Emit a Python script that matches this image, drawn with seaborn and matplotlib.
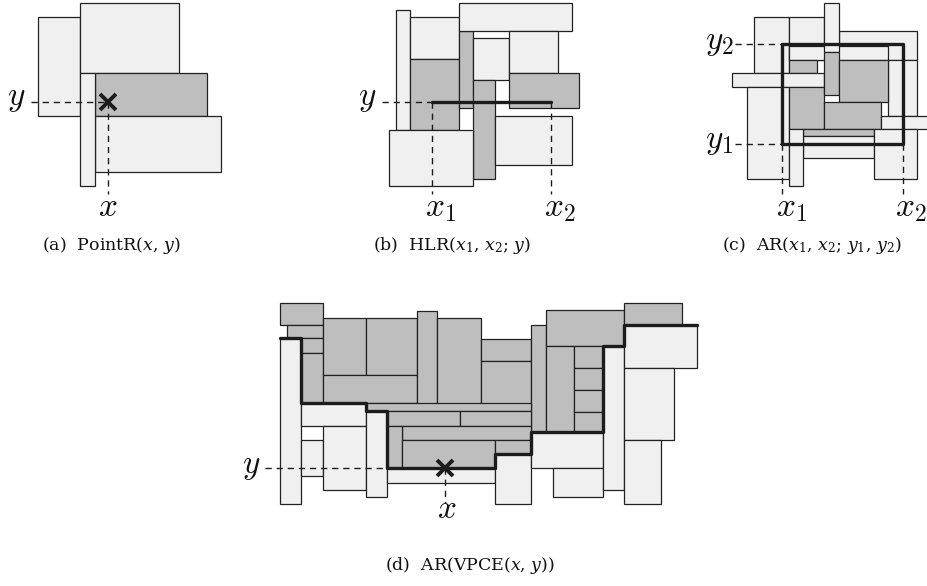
import matplotlib
matplotlib.use("Agg")
import matplotlib.pyplot as plt
import seaborn as sns

sns.set_theme(style="white")

LIGHT = "#f0f0f0"
DARK = "#bebebe"
EDGE = "#222222"
INK = "#1c1c1c"
FILL = {"L": LIGHT, "D": DARK}

# Rectangles of each panel as (left, right, top, bottom, shade), listed back to front
rects_a = [
    (38, 80, 17, 116, "L"),
    (80, 179, 3, 73, "L"),
    (94.7, 207.3, 73, 115.7, "D"),
    (94.7, 221.3, 115.7, 172, "L"),
    (80, 94.7, 73, 186, "L"),
]

rects_b = [
    (396, 410, 10, 130, "L"),
    (410, 459.3, 16.7, 59.3, "L"),
    (410, 459.3, 59.3, 130, "D"),
    (459.3, 473.3, 31, 108.3, "D"),
    (459.3, 572.3, 2.7, 31, "L"),
    (473.3, 509, 38.3, 80, "L"),
    (509, 558.3, 31, 73.3, "L"),
    (509, 579.3, 73.3, 108.3, "D"),
    (473.3, 494.7, 80, 179, "D"),
    (494.7, 572.3, 115.7, 165, "L"),
    (389, 473.3, 130, 186, "L"),
]

rects_c = [
    (754.3, 789.3, 16.7, 73.3, "L"),
    (789.3, 824.3, 16.7, 60, "L"),
    (838.7, 917.3, 31.3, 60, "L"),
    (888.3, 917.3, 60, 115.7, "L"),
    (789.3, 888.3, 45.7, 60, "L"),
    (789.3, 817.3, 60, 73.3, "D"),
    (732.3, 824.3, 73.3, 87.3, "L"),
    (747.3, 789.3, 87.3, 179, "L"),
    (789.3, 824.3, 87.3, 129.3, "D"),
    (824.3, 838.7, 2.7, 52.3, "L"),
    (824.3, 838.7, 52.3, 94.7, "D"),
    (838.7, 888.3, 60, 101.7, "D"),
    (824.3, 881.3, 101.7, 129.3, "D"),
    (881.3, 929, 115.7, 129.3, "L"),
    (803.3, 874, 129.3, 136.3, "D"),
    (803.3, 874, 136.3, 158, "L"),
    (789.3, 803.3, 129.3, 186, "L"),
    (874, 917.3, 129.3, 179, "L"),
]

rects_d = [
    (280, 323, 303.3, 325, "D"),
    (287.3, 323, 325, 338.3, "D"),
    (301.3, 323, 338.3, 353.3, "D"),
    (301.3, 323, 353.3, 403.3, "D"),
    (323, 366.5, 317.7, 375, "D"),
    (366.5, 416.7, 317.7, 375, "D"),
    (323, 416.7, 375, 403.3, "D"),
    (416.7, 437.5, 310.7, 404, "D"),
    (437.5, 481, 317.7, 404, "D"),
    (481, 531, 339.3, 360.7, "D"),
    (481, 531, 360.7, 404, "D"),
    (531, 545.7, 325, 431.7, "D"),
    (545.7, 624.3, 310, 346, "D"),
    (624.3, 682.3, 303.3, 325, "D"),
    (545.7, 574, 346, 431.7, "D"),
    (574, 602.7, 346, 368.3, "D"),
    (574, 602.7, 368.3, 390, "D"),
    (574, 602.7, 390, 411.7, "D"),
    (574, 602.7, 411.7, 431.7, "D"),
    (366, 531, 403.3, 411, "D"),
    (387.3, 460, 411, 425.5, "D"),
    (460, 531, 411, 425.5, "D"),
    (401.7, 531, 425.5, 440, "D"),
    (387.3, 401.7, 425.5, 468.3, "D"),
    (401.7, 495, 440, 468.3, "D"),
    (495, 531, 440, 454.3, "D"),
    (280, 301.3, 338.3, 504.3, "L"),
    (301.3, 366, 403.3, 425.5, "L"),
    (301.3, 323, 440, 475.7, "L"),
    (323, 366, 425.5, 490, "L"),
    (366, 387.3, 411, 497, "L"),
    (387.3, 495, 468.3, 482.5, "L"),
    (495, 531, 454.3, 504.3, "L"),
    (531, 602.7, 431.7, 468.3, "L"),
    (552.7, 602.7, 468.3, 497.3, "L"),
    (602.7, 624.3, 346, 490, "L"),
    (624.3, 696.7, 325, 367.7, "L"),
    (624.3, 674.3, 367.7, 440, "L"),
    (624.3, 660.7, 440, 504.3, "L"),
]

# Query outlines (thick) and guide lines (dashed)
seg_b_x = [431.7, 550.7]
seg_b_y = [101.7, 101.7]
box_c_x = [782.3, 902.7, 902.7, 782.3, 782.3]
box_c_y = [44.3, 44.3, 143.7, 143.7, 44.3]
stair_d_x = [280, 301.3, 301.3, 366, 366, 387.3, 387.3, 495, 495, 531, 531,
             602.7, 602.7, 624.3, 624.3, 696.7]
stair_d_y = [338.3, 338.3, 403.3, 403.3, 411, 411, 468.3, 468.3, 454.3, 454.3,
             431.7, 431.7, 346, 346, 325, 325]

dashed_lines = [
    ([31, 108], [102, 102]),
    ([108, 108], [102, 194]),
    ([382, 431.7], [101.7, 101.7]),
    ([431.7, 431.7], [101.7, 194]),
    ([550.7, 550.7], [101.7, 194]),
    ([735, 782.3], [44.3, 44.3]),
    ([735, 782.3], [143.7, 143.7]),
    ([782.3, 782.3], [143.7, 194]),
    ([902.7, 902.7], [143.7, 194]),
    ([265, 387.3], [468.3, 468.3]),
    ([445, 445], [468.3, 503]),
]
cross_x = [108, 445]
cross_y = [102, 468.3]

# Axis labels: (x, y, text, horizontal alignment)
labels = [
    (16, 105.5, r"$y$", "center"),
    (108, 216, r"$x$", "center"),
    (367, 105.5, r"$y$", "center"),
    (425.5, 216, r"$x_1$", "left"),
    (544.5, 216, r"$x_2$", "left"),
    (705, 48.5, r"$y_2$", "left"),
    (705, 148, r"$y_1$", "left"),
    (776, 216, r"$x_1$", "left"),
    (895, 216, r"$x_2$", "left"),
    (251, 472.7, r"$y$", "center"),
    (447, 518, r"$x$", "center"),
]

captions = [
    (111, 246, r"(a)  PointR($x$, $y$)"),
    (452, 246, r"(b)  HLR($x_1$, $x_2$; $y$)"),
    (812, 246, r"(c)  AR($x_1$, $x_2$; $y_1$, $y_2$)"),
    (470, 566, r"(d)  AR(VPCE($x$, $y$))"),
]

fig = plt.figure(figsize=(9.28, 5.86), dpi=100)
ax = fig.add_axes([0, 0, 1, 1])


def draw_rects(rects):
    for x0, x1, y0, y1, shade in rects:
        ax.bar(x0, y1 - y0, width=x1 - x0, bottom=y0, align="edge",
               color=FILL[shade], edgecolor=EDGE, linewidth=0.9, zorder=2)


for group in (rects_a, rects_b, rects_c, rects_d):
    draw_rects(group)

for xs, ys in dashed_lines:
    ax.plot(xs, ys, color=INK, linewidth=1.0, dashes=(4.5, 3.5), zorder=3)

for xs, ys in ((seg_b_x, seg_b_y), (box_c_x, box_c_y), (stair_d_x, stair_d_y)):
    sns.lineplot(x=xs, y=ys, sort=False, estimator=None, color=INK,
                 linewidth=2.4, ax=ax, zorder=4)

ax.plot(cross_x, cross_y, linestyle="none", marker="x", markersize=11,
        markeredgewidth=2.8, color=INK, zorder=5)

for x, y, txt, ha in labels:
    ax.text(x, y, txt, fontsize=24, math_fontfamily="cm", ha=ha,
            va="baseline", color="#111111")

for x, y, txt in captions:
    ax.text(x, y, txt, fontsize=12.5, family="DejaVu Serif",
            math_fontfamily="dejavuserif", ha="center", va="center",
            color="#111111")

ax.set_xlim(0, 928)
ax.set_ylim(586, 0)
ax.axis("off")
fig.savefig("out.png", dpi=100)
